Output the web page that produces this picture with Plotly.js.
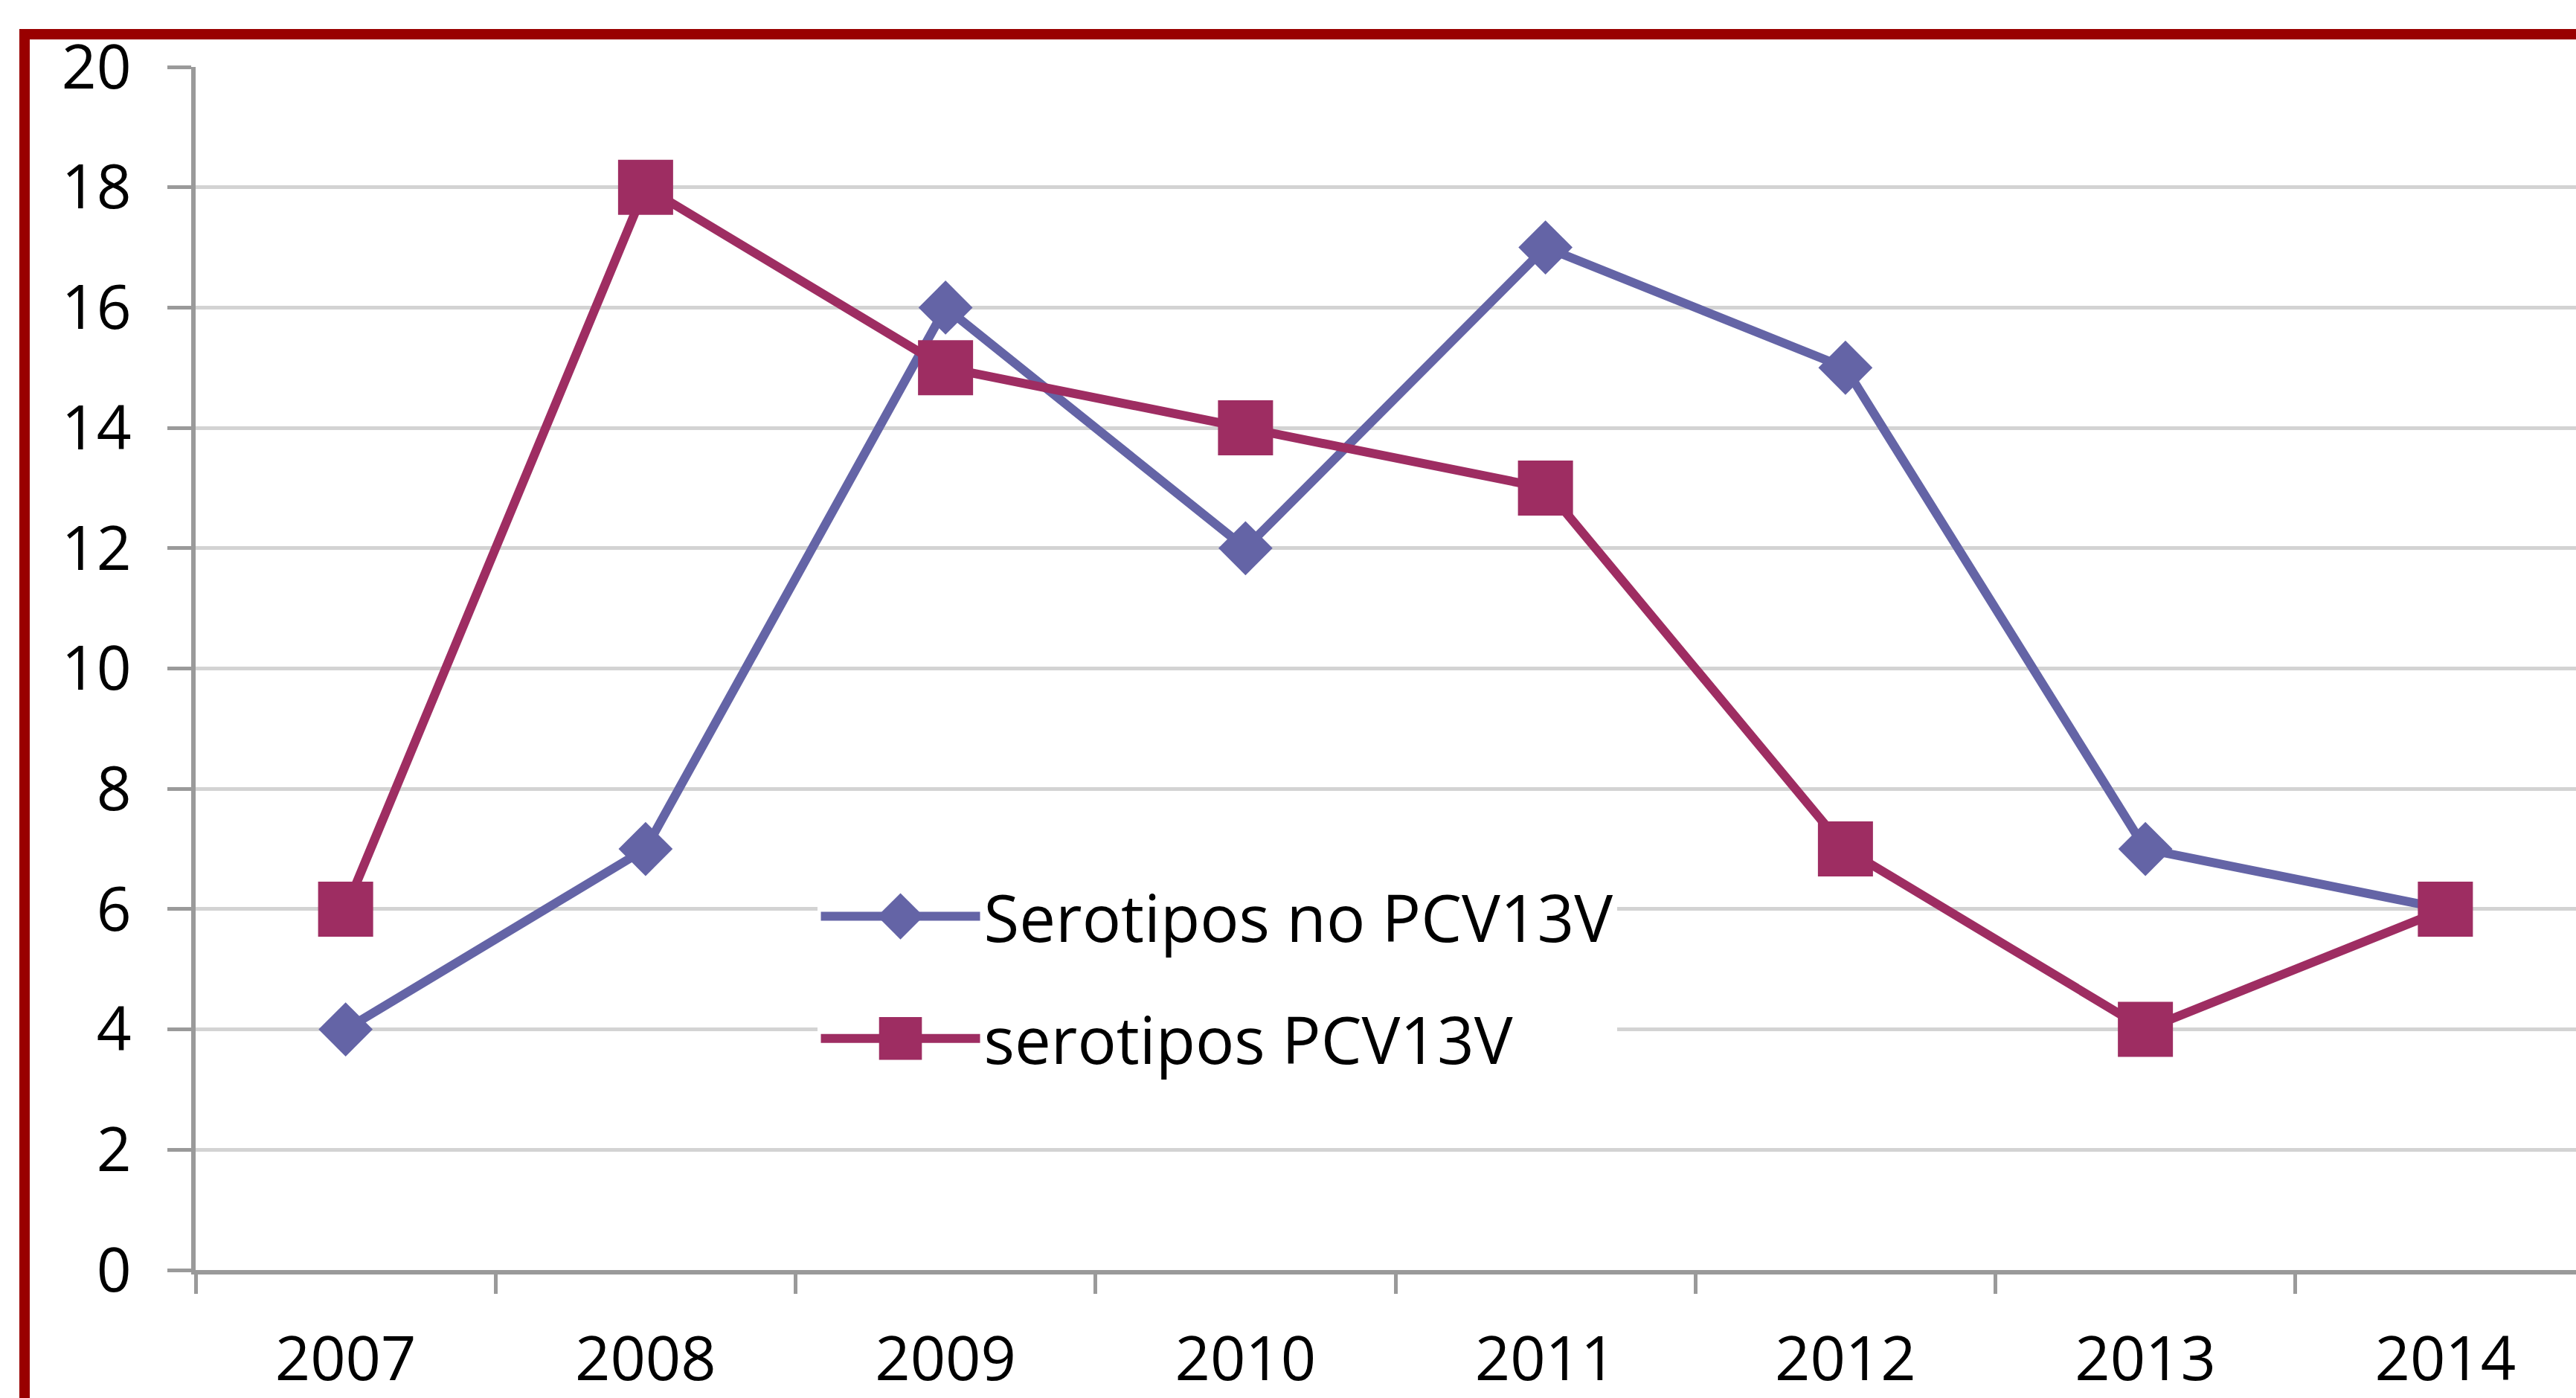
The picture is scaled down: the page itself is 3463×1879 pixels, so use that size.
<!DOCTYPE html>
<html>
<head>
<meta charset="utf-8">
<script src="https://cdn.plot.ly/plotly-3.0.1.min.js"></script>
<style>
html,body{margin:0;padding:0;background:#fff;overflow:hidden;width:3463px;height:1879px;}
#chart{position:absolute;left:0;top:0;}
#frame{position:absolute;left:26px;top:39px;width:3700px;height:2100px;border:14px solid #990000;pointer-events:none;box-sizing:border-box;}
</style>
</head>
<body>
<div id="chart"></div>
<div id="frame"></div>
<script>
var years = ["2007","2008","2009","2010","2011","2012","2013","2014"];
var serotiposNoPCV13V = [4, 7, 16, 12, 17, 15, 7, 6];
var serotiposPCV13V = [6, 18, 15, 14, 13, 7, 4, 6];
var yTicks = [0, 2, 4, 6, 8, 10, 12, 14, 16, 18, 20];

var blue = "#6464a6";
var magenta = "#9e2d62";

var traces = [
  {
    x: years, y: serotiposNoPCV13V, type: "scatter", mode: "lines+markers",
    name: "Serotipos no PCV13V", legendgroup: "a",
    line: {color: blue, width: 12},
    marker: {symbol: "diamond", size: 56, color: blue}
  },
  {
    x: years, y: serotiposPCV13V, type: "scatter", mode: "lines+markers",
    name: "serotipos PCV13V", legendgroup: "b",
    line: {color: magenta, width: 12},
    marker: {symbol: "square", size: 74, color: magenta}
  }
];

var W = 3520, H = 1879;
var layout = {
  width: W, height: H,
  margin: {l: 263, r: W - 3489, t: 90, b: H - 1707, pad: 0},
  paper_bgcolor: "rgba(0,0,0,0)",
  plot_bgcolor: "#ffffff",
  font: {family: "Open Sans, sans-serif", color: "#000000"},
  showlegend: true,
  legend: {
    x: 0.259, y: 0.333, xanchor: "left", yanchor: "top",
    bgcolor: "#ffffff", borderwidth: 0,
    font: {size: 87, color: "#000000", family: "Open Sans, sans-serif"},
    itemwidth: 214, itemsizing: "trace",
    traceorder: "grouped", tracegroupgap: 48
  },
  xaxis: {
    type: "category", categoryarray: years, range: [-0.5, 7.5],
    showgrid: false, zeroline: false,
    showline: true, linecolor: "#9a9a9a", linewidth: 6,
    ticks: "outside", tickson: "boundaries", ticklen: 26, tickwidth: 5, tickcolor: "#9a9a9a",
    tickfont: {size: 83, color: "#000000"},
    ticklabelstandoff: 42
  },
  yaxis: {
    range: [0, 20], tickvals: yTicks, ticktext: yTicks.map(String),
    showgrid: true, gridcolor: "#d3d3d3", gridwidth: 5,
    zeroline: false,
    showline: true, linecolor: "#9a9a9a", linewidth: 6,
    ticks: "outside", ticklen: 32, tickwidth: 5, tickcolor: "#9a9a9a",
    tickfont: {size: 82, color: "#000000"},
    ticklabelstandoff: 32
  }
};

// enlarge legend keys to match the reference's legend styling
var legendScales = [3.0, 3.6];
function styleLegendKeys(gd) {
  var items = gd.querySelectorAll(".legend .traces");
  items.forEach(function (item, i) {
    item.querySelectorAll("path.js-line").forEach(function (p) {
      p.style.strokeWidth = "12px";
      p.setAttribute("stroke-width", "12");
    });
    item.querySelectorAll("path.scatterpts").forEach(function (p) {
      var base = p.getAttribute("data-basetransform");
      if (base === null) {
        base = p.getAttribute("transform") || "";
        p.setAttribute("data-basetransform", base);
      }
      p.setAttribute("transform", base + " scale(" + (legendScales[i] || 3) + ")");
    });
  });
}

var gdEl = document.getElementById("chart");
Plotly.newPlot(gdEl, traces, layout, {displayModeBar: false, staticPlot: true}).then(function (gd) {
  styleLegendKeys(gd);
  gd.on("plotly_afterplot", function () { styleLegendKeys(gd); });
  setTimeout(function () { styleLegendKeys(gd); }, 200);
  setTimeout(function () { styleLegendKeys(gd); }, 800);
});
</script>
</body>
</html>
